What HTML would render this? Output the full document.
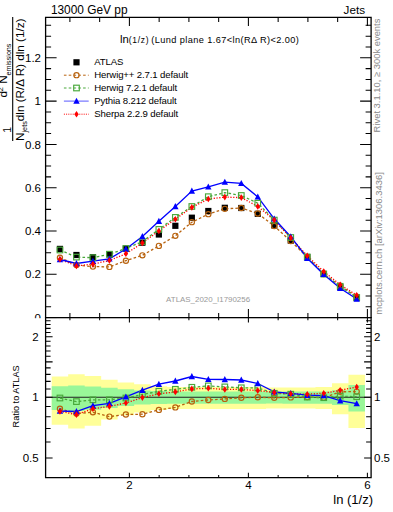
<!DOCTYPE html><html><head><meta charset="utf-8"><style>html,body{margin:0;padding:0;background:#fff;}svg{display:block;font-family:"Liberation Sans",sans-serif;}</style></head><body><svg width="393" height="512" viewBox="0 0 393 512"><rect width="393" height="512" fill="#fff"/><g fill="none" stroke-width="1.3"><path d="M59.95,257.70 L76.44,265.00 L92.92,266.60 L109.41,266.90 L125.89,260.70 L142.38,255.30 L158.87,245.90 L175.35,235.80 L191.84,222.20 L208.32,214.20 L224.81,208.80 L241.30,208.00 L257.78,213.50 L274.27,226.00 L290.75,241.10 L307.24,257.00 L323.73,274.00 L340.21,285.80 L356.70,296.80" stroke="#b8620e" stroke-dasharray="2.6,2.2"/><path d="M59.95,250.00 L76.44,257.10 L92.92,257.70 L109.41,254.20 L125.89,248.50 L142.38,241.60 L158.87,229.40 L175.35,217.40 L191.84,206.50 L208.32,196.70 L224.81,192.60 L241.30,195.50 L257.78,203.20 L274.27,220.10 L290.75,237.50 L307.24,257.00 L323.73,274.00 L340.21,286.30 L356.70,297.50" stroke="#48a83a" stroke-dasharray="2.6,2.2"/><path d="M59.95,259.30 L76.44,266.00 L92.92,264.10 L109.41,260.50 L125.89,253.80 L142.38,242.90 L158.87,231.00 L175.35,219.20 L191.84,207.40 L208.32,199.00 L224.81,197.10 L241.30,197.60 L257.78,206.40 L274.27,220.10 L290.75,237.90 L307.24,255.80 L323.73,271.50 L340.21,284.70 L356.70,295.30" stroke="#ff0000" stroke-dasharray="1.2,1.6"/><path d="M59.95,259.50 L76.44,263.50 L92.92,261.20 L109.41,258.80 L125.89,249.00 L142.38,236.50 L158.87,221.20 L175.35,206.50 L191.84,191.00 L208.32,186.90 L224.81,182.10 L241.30,183.40 L257.78,196.90 L274.27,218.80 L290.75,236.60 L307.24,258.20 L323.73,274.40 L340.21,288.30 L356.70,299.00" stroke="#0000ff"/></g><rect x="56.85" y="245.80" width="6.2" height="6.2" fill="#000"/><rect x="73.34" y="251.90" width="6.2" height="6.2" fill="#000"/><rect x="89.82" y="254.10" width="6.2" height="6.2" fill="#000"/><rect x="106.31" y="251.30" width="6.2" height="6.2" fill="#000"/><rect x="122.79" y="245.60" width="6.2" height="6.2" fill="#000"/><rect x="139.28" y="239.60" width="6.2" height="6.2" fill="#000"/><rect x="155.77" y="231.40" width="6.2" height="6.2" fill="#000"/><rect x="172.25" y="222.70" width="6.2" height="6.2" fill="#000"/><rect x="188.74" y="214.60" width="6.2" height="6.2" fill="#000"/><rect x="205.22" y="207.90" width="6.2" height="6.2" fill="#000"/><rect x="221.71" y="204.70" width="6.2" height="6.2" fill="#000"/><rect x="238.20" y="204.90" width="6.2" height="6.2" fill="#000"/><rect x="254.68" y="210.70" width="6.2" height="6.2" fill="#000"/><rect x="271.17" y="222.30" width="6.2" height="6.2" fill="#000"/><rect x="287.65" y="237.50" width="6.2" height="6.2" fill="#000"/><rect x="304.14" y="253.90" width="6.2" height="6.2" fill="#000"/><rect x="320.63" y="270.90" width="6.2" height="6.2" fill="#000"/><rect x="337.11" y="284.10" width="6.2" height="6.2" fill="#000"/><rect x="353.60" y="294.90" width="6.2" height="6.2" fill="#000"/><circle cx="59.95" cy="257.70" r="2.6" fill="none" stroke="#b8620e" stroke-width="1.15"/><circle cx="76.44" cy="265.00" r="2.6" fill="none" stroke="#b8620e" stroke-width="1.15"/><circle cx="92.92" cy="266.60" r="2.6" fill="none" stroke="#b8620e" stroke-width="1.15"/><circle cx="109.41" cy="266.90" r="2.6" fill="none" stroke="#b8620e" stroke-width="1.15"/><circle cx="125.89" cy="260.70" r="2.6" fill="none" stroke="#b8620e" stroke-width="1.15"/><circle cx="142.38" cy="255.30" r="2.6" fill="none" stroke="#b8620e" stroke-width="1.15"/><circle cx="158.87" cy="245.90" r="2.6" fill="none" stroke="#b8620e" stroke-width="1.15"/><circle cx="175.35" cy="235.80" r="2.6" fill="none" stroke="#b8620e" stroke-width="1.15"/><circle cx="191.84" cy="222.20" r="2.6" fill="none" stroke="#b8620e" stroke-width="1.15"/><circle cx="208.32" cy="214.20" r="2.6" fill="none" stroke="#b8620e" stroke-width="1.15"/><circle cx="224.81" cy="208.80" r="2.6" fill="none" stroke="#b8620e" stroke-width="1.15"/><circle cx="241.30" cy="208.00" r="2.6" fill="none" stroke="#b8620e" stroke-width="1.15"/><circle cx="257.78" cy="213.50" r="2.6" fill="none" stroke="#b8620e" stroke-width="1.15"/><circle cx="274.27" cy="226.00" r="2.6" fill="none" stroke="#b8620e" stroke-width="1.15"/><circle cx="290.75" cy="241.10" r="2.6" fill="none" stroke="#b8620e" stroke-width="1.15"/><circle cx="307.24" cy="257.00" r="2.6" fill="none" stroke="#b8620e" stroke-width="1.15"/><circle cx="323.73" cy="274.00" r="2.6" fill="none" stroke="#b8620e" stroke-width="1.15"/><circle cx="340.21" cy="285.80" r="2.6" fill="none" stroke="#b8620e" stroke-width="1.15"/><circle cx="356.70" cy="296.80" r="2.6" fill="none" stroke="#b8620e" stroke-width="1.15"/><rect x="57.15" y="247.20" width="5.6" height="5.6" fill="none" stroke="#48a83a" stroke-width="1.15"/><rect x="73.64" y="254.30" width="5.6" height="5.6" fill="none" stroke="#48a83a" stroke-width="1.15"/><rect x="90.12" y="254.90" width="5.6" height="5.6" fill="none" stroke="#48a83a" stroke-width="1.15"/><rect x="106.61" y="251.40" width="5.6" height="5.6" fill="none" stroke="#48a83a" stroke-width="1.15"/><rect x="123.09" y="245.70" width="5.6" height="5.6" fill="none" stroke="#48a83a" stroke-width="1.15"/><rect x="139.58" y="238.80" width="5.6" height="5.6" fill="none" stroke="#48a83a" stroke-width="1.15"/><rect x="156.07" y="226.60" width="5.6" height="5.6" fill="none" stroke="#48a83a" stroke-width="1.15"/><rect x="172.55" y="214.60" width="5.6" height="5.6" fill="none" stroke="#48a83a" stroke-width="1.15"/><rect x="189.04" y="203.70" width="5.6" height="5.6" fill="none" stroke="#48a83a" stroke-width="1.15"/><rect x="205.52" y="193.90" width="5.6" height="5.6" fill="none" stroke="#48a83a" stroke-width="1.15"/><rect x="222.01" y="189.80" width="5.6" height="5.6" fill="none" stroke="#48a83a" stroke-width="1.15"/><rect x="238.50" y="192.70" width="5.6" height="5.6" fill="none" stroke="#48a83a" stroke-width="1.15"/><rect x="254.98" y="200.40" width="5.6" height="5.6" fill="none" stroke="#48a83a" stroke-width="1.15"/><rect x="271.47" y="217.30" width="5.6" height="5.6" fill="none" stroke="#48a83a" stroke-width="1.15"/><rect x="287.95" y="234.70" width="5.6" height="5.6" fill="none" stroke="#48a83a" stroke-width="1.15"/><rect x="304.44" y="254.20" width="5.6" height="5.6" fill="none" stroke="#48a83a" stroke-width="1.15"/><rect x="320.93" y="271.20" width="5.6" height="5.6" fill="none" stroke="#48a83a" stroke-width="1.15"/><rect x="337.41" y="283.50" width="5.6" height="5.6" fill="none" stroke="#48a83a" stroke-width="1.15"/><rect x="353.90" y="294.70" width="5.6" height="5.6" fill="none" stroke="#48a83a" stroke-width="1.15"/><path d="M59.95,256.10 L63.15,262.20 L56.75,262.20 Z" fill="#0000ff"/><path d="M76.44,260.10 L79.64,266.20 L73.24,266.20 Z" fill="#0000ff"/><path d="M92.92,257.80 L96.12,263.90 L89.72,263.90 Z" fill="#0000ff"/><path d="M109.41,255.40 L112.61,261.50 L106.21,261.50 Z" fill="#0000ff"/><path d="M125.89,245.60 L129.09,251.70 L122.69,251.70 Z" fill="#0000ff"/><path d="M142.38,233.10 L145.58,239.20 L139.18,239.20 Z" fill="#0000ff"/><path d="M158.87,217.80 L162.07,223.90 L155.67,223.90 Z" fill="#0000ff"/><path d="M175.35,203.10 L178.55,209.20 L172.15,209.20 Z" fill="#0000ff"/><path d="M191.84,187.60 L195.04,193.70 L188.64,193.70 Z" fill="#0000ff"/><path d="M208.32,183.50 L211.52,189.60 L205.12,189.60 Z" fill="#0000ff"/><path d="M224.81,178.70 L228.01,184.80 L221.61,184.80 Z" fill="#0000ff"/><path d="M241.30,180.00 L244.50,186.10 L238.10,186.10 Z" fill="#0000ff"/><path d="M257.78,193.50 L260.98,199.60 L254.58,199.60 Z" fill="#0000ff"/><path d="M274.27,215.40 L277.47,221.50 L271.07,221.50 Z" fill="#0000ff"/><path d="M290.75,233.20 L293.95,239.30 L287.55,239.30 Z" fill="#0000ff"/><path d="M307.24,254.80 L310.44,260.90 L304.04,260.90 Z" fill="#0000ff"/><path d="M323.73,271.00 L326.93,277.10 L320.53,277.10 Z" fill="#0000ff"/><path d="M340.21,284.90 L343.41,291.00 L337.01,291.00 Z" fill="#0000ff"/><path d="M356.70,295.60 L359.90,301.70 L353.50,301.70 Z" fill="#0000ff"/><path d="M59.95,256.00 L62.15,259.30 L59.95,262.60 L57.75,259.30 Z" fill="#ff0000"/><path d="M76.44,262.70 L78.64,266.00 L76.44,269.30 L74.24,266.00 Z" fill="#ff0000"/><path d="M92.92,260.80 L95.12,264.10 L92.92,267.40 L90.72,264.10 Z" fill="#ff0000"/><path d="M109.41,257.20 L111.61,260.50 L109.41,263.80 L107.21,260.50 Z" fill="#ff0000"/><path d="M125.89,250.50 L128.09,253.80 L125.89,257.10 L123.69,253.80 Z" fill="#ff0000"/><path d="M142.38,239.60 L144.58,242.90 L142.38,246.20 L140.18,242.90 Z" fill="#ff0000"/><path d="M158.87,227.70 L161.07,231.00 L158.87,234.30 L156.67,231.00 Z" fill="#ff0000"/><path d="M175.35,215.90 L177.55,219.20 L175.35,222.50 L173.15,219.20 Z" fill="#ff0000"/><path d="M191.84,204.10 L194.04,207.40 L191.84,210.70 L189.64,207.40 Z" fill="#ff0000"/><path d="M208.32,195.70 L210.52,199.00 L208.32,202.30 L206.12,199.00 Z" fill="#ff0000"/><path d="M224.81,193.80 L227.01,197.10 L224.81,200.40 L222.61,197.10 Z" fill="#ff0000"/><path d="M241.30,194.30 L243.50,197.60 L241.30,200.90 L239.10,197.60 Z" fill="#ff0000"/><path d="M257.78,203.10 L259.98,206.40 L257.78,209.70 L255.58,206.40 Z" fill="#ff0000"/><path d="M274.27,216.80 L276.47,220.10 L274.27,223.40 L272.07,220.10 Z" fill="#ff0000"/><path d="M290.75,234.60 L292.95,237.90 L290.75,241.20 L288.55,237.90 Z" fill="#ff0000"/><path d="M307.24,252.50 L309.44,255.80 L307.24,259.10 L305.04,255.80 Z" fill="#ff0000"/><path d="M323.73,268.20 L325.93,271.50 L323.73,274.80 L321.53,271.50 Z" fill="#ff0000"/><path d="M340.21,281.40 L342.41,284.70 L340.21,288.00 L338.01,284.70 Z" fill="#ff0000"/><path d="M356.70,292.00 L358.90,295.30 L356.70,298.60 L354.50,295.30 Z" fill="#ff0000"/><text x="166.1" y="301.9" font-size="7.9" fill="#999" textLength="84" lengthAdjust="spacingAndGlyphs">ATLAS_2020_I1790256</text><path d="M45.60,17.40 H371.10 V317.60 H45.60 Z" fill="none" stroke="#000" stroke-width="1.3"/><path d="M45.60,317.60 h11.00 M371.10,317.60 h-11.00 M45.60,306.78 h5.50 M371.10,306.78 h-5.50 M45.60,295.95 h5.50 M371.10,295.95 h-5.50 M45.60,285.12 h5.50 M371.10,285.12 h-5.50 M45.60,274.30 h11.00 M371.10,274.30 h-11.00 M45.60,263.48 h5.50 M371.10,263.48 h-5.50 M45.60,252.65 h5.50 M371.10,252.65 h-5.50 M45.60,241.83 h5.50 M371.10,241.83 h-5.50 M45.60,231.00 h11.00 M371.10,231.00 h-11.00 M45.60,220.18 h5.50 M371.10,220.18 h-5.50 M45.60,209.35 h5.50 M371.10,209.35 h-5.50 M45.60,198.53 h5.50 M371.10,198.53 h-5.50 M45.60,187.70 h11.00 M371.10,187.70 h-11.00 M45.60,176.88 h5.50 M371.10,176.88 h-5.50 M45.60,166.05 h5.50 M371.10,166.05 h-5.50 M45.60,155.23 h5.50 M371.10,155.23 h-5.50 M45.60,144.40 h11.00 M371.10,144.40 h-11.00 M45.60,133.58 h5.50 M371.10,133.58 h-5.50 M45.60,122.75 h5.50 M371.10,122.75 h-5.50 M45.60,111.93 h5.50 M371.10,111.93 h-5.50 M45.60,101.10 h11.00 M371.10,101.10 h-11.00 M45.60,90.28 h5.50 M371.10,90.28 h-5.50 M45.60,79.45 h5.50 M371.10,79.45 h-5.50 M45.60,68.62 h5.50 M371.10,68.62 h-5.50 M45.60,57.80 h11.00 M371.10,57.80 h-11.00 M45.60,46.98 h5.50 M371.10,46.98 h-5.50 M45.60,36.15 h5.50 M371.10,36.15 h-5.50 M45.60,25.32 h5.50 M371.10,25.32 h-5.50 M69.90,317.60 v-4.50 M69.90,17.40 v4.50 M99.65,317.60 v-4.50 M99.65,17.40 v4.50 M129.40,317.60 v-8.60 M129.40,17.40 v8.60 M159.15,317.60 v-4.50 M159.15,17.40 v4.50 M188.90,317.60 v-4.50 M188.90,17.40 v4.50 M218.65,317.60 v-4.50 M218.65,17.40 v4.50 M248.40,317.60 v-8.60 M248.40,17.40 v8.60 M278.15,317.60 v-4.50 M278.15,17.40 v4.50 M307.90,317.60 v-4.50 M307.90,17.40 v4.50 M337.65,317.60 v-4.50 M337.65,17.40 v4.50 M367.40,317.60 v-8.60 M367.40,17.40 v8.60" fill="none" stroke="#000" stroke-width="1.05"/><text x="41" y="278.40" font-size="11.5" text-anchor="end">0.2</text><text x="41" y="235.10" font-size="11.5" text-anchor="end">0.4</text><text x="41" y="191.80" font-size="11.5" text-anchor="end">0.6</text><text x="41" y="148.50" font-size="11.5" text-anchor="end">0.8</text><text x="41" y="105.20" font-size="11.5" text-anchor="end">1</text><text x="41" y="61.90" font-size="11.5" text-anchor="end">1.2</text><text x="41" y="321.70" font-size="11.5" text-anchor="end">0</text><rect x="0" y="318.20" width="393" height="170.10" fill="#fff"/><path d="M51.71,376.40 L68.19,376.40 L68.19,374.36 L84.68,374.36 L84.68,375.92 L101.16,375.92 L101.17,379.63 L117.65,379.63 L117.65,382.46 L134.14,382.46 L134.14,384.32 L150.62,384.32 L150.62,386.23 L167.11,386.23 L167.11,387.00 L183.59,387.00 L183.60,387.00 L200.08,387.00 L200.08,387.00 L216.57,387.00 L216.57,387.00 L233.05,387.00 L233.05,387.00 L249.54,387.00 L249.54,387.00 L266.02,387.00 L266.03,387.39 L282.51,387.39 L282.51,387.39 L299.00,387.39 L299.00,387.39 L315.48,387.39 L315.48,387.00 L331.97,387.00 L331.97,383.13 L348.45,383.13 L348.45,374.63 L364.94,374.63 L364.94,427.98 L348.45,427.98 L348.45,414.22 L331.97,414.22 L331.97,408.97 L315.48,408.97 L315.48,408.48 L299.00,408.48 L299.00,408.48 L282.51,408.48 L282.51,408.48 L266.03,408.48 L266.02,408.97 L249.54,408.97 L249.54,408.97 L233.05,408.97 L233.05,408.97 L216.57,408.97 L216.57,408.97 L200.08,408.97 L200.08,408.97 L183.60,408.97 L183.59,408.97 L167.11,408.97 L167.11,409.98 L150.62,409.98 L150.62,412.54 L134.14,412.54 L134.14,415.18 L117.65,415.18 L117.65,419.47 L101.17,419.47 L101.16,425.66 L84.68,425.66 L84.68,428.48 L68.19,428.48 L68.19,424.81 L51.71,424.81 Z" fill="#ffff99"/><path d="M51.71,386.23 L68.19,386.23 L68.19,385.46 L84.68,385.46 L84.68,386.38 L101.16,386.38 L101.17,387.78 L117.65,387.78 L117.65,389.37 L134.14,389.37 L134.14,390.57 L150.62,390.57 L150.62,390.98 L167.11,390.98 L167.11,391.38 L183.59,391.38 L183.60,391.38 L200.08,391.38 L200.08,391.38 L216.57,391.38 L216.57,391.38 L233.05,391.38 L233.05,391.38 L249.54,391.38 L249.54,391.38 L266.02,391.38 L266.03,391.55 L282.51,391.55 L282.51,391.38 L299.00,391.38 L299.00,391.38 L315.48,391.38 L315.48,391.38 L331.97,391.38 L331.97,390.33 L348.45,390.33 L348.45,385.08 L364.94,385.08 L364.94,411.51 L348.45,411.51 L348.45,404.88 L331.97,404.88 L331.97,403.64 L315.48,403.64 L315.48,403.64 L299.00,403.64 L299.00,403.64 L282.51,403.64 L282.51,403.46 L266.03,403.46 L266.02,403.64 L249.54,403.64 L249.54,403.64 L233.05,403.64 L233.05,403.64 L216.57,403.64 L216.57,403.64 L200.08,403.64 L200.08,403.64 L183.60,403.64 L183.59,403.64 L167.11,403.64 L167.11,404.12 L150.62,404.12 L150.62,404.59 L134.14,404.59 L134.14,406.03 L117.65,406.03 L117.65,407.98 L101.17,407.98 L101.16,409.78 L84.68,409.78 L84.68,411.00 L68.19,411.00 L68.19,409.98 L51.71,409.98 Z" fill="#99f799"/><path d="M45.60,397.30 H371.10" stroke="#222" stroke-width="1.1"/><g fill="none" stroke-width="1.3"><path d="M59.95,408.70 L76.44,413.50 L92.92,412.30 L109.41,416.60 L125.89,414.50 L142.38,414.20 L158.87,409.90 L175.35,407.40 L191.84,401.50 L208.32,400.00 L224.81,398.90 L241.30,397.80 L257.78,397.20 L274.27,397.80 L290.75,397.40 L307.24,397.10 L323.73,397.70 L340.21,391.80 L356.70,391.60" stroke="#b8620e" stroke-dasharray="2.6,2.2"/><path d="M59.95,398.00 L76.44,401.60 L92.92,399.80 L109.41,399.80 L125.89,398.00 L142.38,394.50 L158.87,391.30 L175.35,389.30 L191.84,387.30 L208.32,385.90 L224.81,386.90 L241.30,387.80 L257.78,388.00 L274.27,393.30 L290.75,394.20 L307.24,397.10 L323.73,397.70 L340.21,396.10 L356.70,396.70" stroke="#48a83a" stroke-dasharray="2.6,2.2"/><path d="M59.95,411.40 L76.44,414.60 L92.92,408.70 L109.41,406.40 L125.89,403.00 L142.38,397.60 L158.87,393.80 L175.35,391.90 L191.84,388.90 L208.32,388.30 L224.81,389.40 L241.30,389.40 L257.78,390.60 L274.27,392.40 L290.75,393.80 L307.24,394.20 L323.73,393.20 L340.21,390.30 L356.70,387.00" stroke="#ff0000" stroke-dasharray="1.2,1.6"/><path d="M59.95,411.00 L76.44,411.50 L92.92,405.70 L109.41,403.40 L125.89,396.80 L142.38,390.20 L158.87,384.20 L175.35,381.00 L191.84,376.50 L208.32,379.40 L224.81,379.50 L241.30,380.00 L257.78,383.50 L274.27,391.90 L290.75,393.30 L307.24,395.20 L323.73,395.60 L340.21,400.70 L356.70,403.60" stroke="#0000ff"/></g><circle cx="59.95" cy="408.70" r="2.6" fill="none" stroke="#b8620e" stroke-width="1.15"/><circle cx="76.44" cy="413.50" r="2.6" fill="none" stroke="#b8620e" stroke-width="1.15"/><circle cx="92.92" cy="412.30" r="2.6" fill="none" stroke="#b8620e" stroke-width="1.15"/><circle cx="109.41" cy="416.60" r="2.6" fill="none" stroke="#b8620e" stroke-width="1.15"/><circle cx="125.89" cy="414.50" r="2.6" fill="none" stroke="#b8620e" stroke-width="1.15"/><circle cx="142.38" cy="414.20" r="2.6" fill="none" stroke="#b8620e" stroke-width="1.15"/><circle cx="158.87" cy="409.90" r="2.6" fill="none" stroke="#b8620e" stroke-width="1.15"/><circle cx="175.35" cy="407.40" r="2.6" fill="none" stroke="#b8620e" stroke-width="1.15"/><circle cx="191.84" cy="401.50" r="2.6" fill="none" stroke="#b8620e" stroke-width="1.15"/><circle cx="208.32" cy="400.00" r="2.6" fill="none" stroke="#b8620e" stroke-width="1.15"/><circle cx="224.81" cy="398.90" r="2.6" fill="none" stroke="#b8620e" stroke-width="1.15"/><circle cx="241.30" cy="397.80" r="2.6" fill="none" stroke="#b8620e" stroke-width="1.15"/><circle cx="257.78" cy="397.20" r="2.6" fill="none" stroke="#b8620e" stroke-width="1.15"/><circle cx="274.27" cy="397.80" r="2.6" fill="none" stroke="#b8620e" stroke-width="1.15"/><circle cx="290.75" cy="397.40" r="2.6" fill="none" stroke="#b8620e" stroke-width="1.15"/><circle cx="307.24" cy="397.10" r="2.6" fill="none" stroke="#b8620e" stroke-width="1.15"/><circle cx="323.73" cy="397.70" r="2.6" fill="none" stroke="#b8620e" stroke-width="1.15"/><circle cx="340.21" cy="391.80" r="2.6" fill="none" stroke="#b8620e" stroke-width="1.15"/><circle cx="356.70" cy="391.60" r="2.6" fill="none" stroke="#b8620e" stroke-width="1.15"/><rect x="57.15" y="395.20" width="5.6" height="5.6" fill="none" stroke="#48a83a" stroke-width="1.15"/><rect x="73.64" y="398.80" width="5.6" height="5.6" fill="none" stroke="#48a83a" stroke-width="1.15"/><rect x="90.12" y="397.00" width="5.6" height="5.6" fill="none" stroke="#48a83a" stroke-width="1.15"/><rect x="106.61" y="397.00" width="5.6" height="5.6" fill="none" stroke="#48a83a" stroke-width="1.15"/><rect x="123.09" y="395.20" width="5.6" height="5.6" fill="none" stroke="#48a83a" stroke-width="1.15"/><rect x="139.58" y="391.70" width="5.6" height="5.6" fill="none" stroke="#48a83a" stroke-width="1.15"/><rect x="156.07" y="388.50" width="5.6" height="5.6" fill="none" stroke="#48a83a" stroke-width="1.15"/><rect x="172.55" y="386.50" width="5.6" height="5.6" fill="none" stroke="#48a83a" stroke-width="1.15"/><rect x="189.04" y="384.50" width="5.6" height="5.6" fill="none" stroke="#48a83a" stroke-width="1.15"/><rect x="205.52" y="383.10" width="5.6" height="5.6" fill="none" stroke="#48a83a" stroke-width="1.15"/><rect x="222.01" y="384.10" width="5.6" height="5.6" fill="none" stroke="#48a83a" stroke-width="1.15"/><rect x="238.50" y="385.00" width="5.6" height="5.6" fill="none" stroke="#48a83a" stroke-width="1.15"/><rect x="254.98" y="385.20" width="5.6" height="5.6" fill="none" stroke="#48a83a" stroke-width="1.15"/><rect x="271.47" y="390.50" width="5.6" height="5.6" fill="none" stroke="#48a83a" stroke-width="1.15"/><rect x="287.95" y="391.40" width="5.6" height="5.6" fill="none" stroke="#48a83a" stroke-width="1.15"/><rect x="304.44" y="394.30" width="5.6" height="5.6" fill="none" stroke="#48a83a" stroke-width="1.15"/><rect x="320.93" y="394.90" width="5.6" height="5.6" fill="none" stroke="#48a83a" stroke-width="1.15"/><rect x="337.41" y="393.30" width="5.6" height="5.6" fill="none" stroke="#48a83a" stroke-width="1.15"/><rect x="353.90" y="393.90" width="5.6" height="5.6" fill="none" stroke="#48a83a" stroke-width="1.15"/><path d="M59.95,407.60 L63.15,413.70 L56.75,413.70 Z" fill="#0000ff"/><path d="M76.44,408.10 L79.64,414.20 L73.24,414.20 Z" fill="#0000ff"/><path d="M92.92,402.30 L96.12,408.40 L89.72,408.40 Z" fill="#0000ff"/><path d="M109.41,400.00 L112.61,406.10 L106.21,406.10 Z" fill="#0000ff"/><path d="M125.89,393.40 L129.09,399.50 L122.69,399.50 Z" fill="#0000ff"/><path d="M142.38,386.80 L145.58,392.90 L139.18,392.90 Z" fill="#0000ff"/><path d="M158.87,380.80 L162.07,386.90 L155.67,386.90 Z" fill="#0000ff"/><path d="M175.35,377.60 L178.55,383.70 L172.15,383.70 Z" fill="#0000ff"/><path d="M191.84,373.10 L195.04,379.20 L188.64,379.20 Z" fill="#0000ff"/><path d="M208.32,376.00 L211.52,382.10 L205.12,382.10 Z" fill="#0000ff"/><path d="M224.81,376.10 L228.01,382.20 L221.61,382.20 Z" fill="#0000ff"/><path d="M241.30,376.60 L244.50,382.70 L238.10,382.70 Z" fill="#0000ff"/><path d="M257.78,380.10 L260.98,386.20 L254.58,386.20 Z" fill="#0000ff"/><path d="M274.27,388.50 L277.47,394.60 L271.07,394.60 Z" fill="#0000ff"/><path d="M290.75,389.90 L293.95,396.00 L287.55,396.00 Z" fill="#0000ff"/><path d="M307.24,391.80 L310.44,397.90 L304.04,397.90 Z" fill="#0000ff"/><path d="M323.73,392.20 L326.93,398.30 L320.53,398.30 Z" fill="#0000ff"/><path d="M340.21,397.30 L343.41,403.40 L337.01,403.40 Z" fill="#0000ff"/><path d="M356.70,400.20 L359.90,406.30 L353.50,406.30 Z" fill="#0000ff"/><path d="M59.95,408.10 L62.15,411.40 L59.95,414.70 L57.75,411.40 Z" fill="#ff0000"/><path d="M76.44,411.30 L78.64,414.60 L76.44,417.90 L74.24,414.60 Z" fill="#ff0000"/><path d="M92.92,405.40 L95.12,408.70 L92.92,412.00 L90.72,408.70 Z" fill="#ff0000"/><path d="M109.41,403.10 L111.61,406.40 L109.41,409.70 L107.21,406.40 Z" fill="#ff0000"/><path d="M125.89,399.70 L128.09,403.00 L125.89,406.30 L123.69,403.00 Z" fill="#ff0000"/><path d="M142.38,394.30 L144.58,397.60 L142.38,400.90 L140.18,397.60 Z" fill="#ff0000"/><path d="M158.87,390.50 L161.07,393.80 L158.87,397.10 L156.67,393.80 Z" fill="#ff0000"/><path d="M175.35,388.60 L177.55,391.90 L175.35,395.20 L173.15,391.90 Z" fill="#ff0000"/><path d="M191.84,385.60 L194.04,388.90 L191.84,392.20 L189.64,388.90 Z" fill="#ff0000"/><path d="M208.32,385.00 L210.52,388.30 L208.32,391.60 L206.12,388.30 Z" fill="#ff0000"/><path d="M224.81,386.10 L227.01,389.40 L224.81,392.70 L222.61,389.40 Z" fill="#ff0000"/><path d="M241.30,386.10 L243.50,389.40 L241.30,392.70 L239.10,389.40 Z" fill="#ff0000"/><path d="M257.78,387.30 L259.98,390.60 L257.78,393.90 L255.58,390.60 Z" fill="#ff0000"/><path d="M274.27,389.10 L276.47,392.40 L274.27,395.70 L272.07,392.40 Z" fill="#ff0000"/><path d="M290.75,390.50 L292.95,393.80 L290.75,397.10 L288.55,393.80 Z" fill="#ff0000"/><path d="M307.24,390.90 L309.44,394.20 L307.24,397.50 L305.04,394.20 Z" fill="#ff0000"/><path d="M323.73,389.90 L325.93,393.20 L323.73,396.50 L321.53,393.20 Z" fill="#ff0000"/><path d="M340.21,387.00 L342.41,390.30 L340.21,393.60 L338.01,390.30 Z" fill="#ff0000"/><path d="M356.70,383.70 L358.90,387.00 L356.70,390.30 L354.50,387.00 Z" fill="#ff0000"/><path d="M45.60,317.60 H371.10 V477.70 H45.60 Z" fill="none" stroke="#000" stroke-width="1.3"/><path d="M45.60,388.97 h5.00 M371.10,388.97 h-5.00 M45.60,381.36 h5.00 M371.10,381.36 h-5.00 M45.60,374.36 h5.00 M371.10,374.36 h-5.00 M45.60,367.88 h5.00 M371.10,367.88 h-5.00 M45.60,361.85 h7.00 M371.10,361.85 h-7.00 M45.60,356.21 h5.00 M371.10,356.21 h-5.00 M45.60,350.91 h5.00 M371.10,350.91 h-5.00 M45.60,345.91 h5.00 M371.10,345.91 h-5.00 M45.60,341.18 h5.00 M371.10,341.18 h-5.00 M45.60,336.70 h7.00 M371.10,336.70 h-7.00 M45.60,332.43 h5.00 M371.10,332.43 h-5.00 M45.60,328.37 h5.00 M371.10,328.37 h-5.00 M45.60,324.48 h5.00 M371.10,324.48 h-5.00 M45.60,320.76 h5.00 M371.10,320.76 h-5.00 M45.60,406.51 h5.00 M371.10,406.51 h-5.00 M45.60,416.81 h5.00 M371.10,416.81 h-5.00 M45.60,428.48 h5.00 M371.10,428.48 h-5.00 M45.60,441.96 h5.00 M371.10,441.96 h-5.00 M45.60,457.90 h7.00 M371.10,457.90 h-7.00 M45.60,397.30 h7.00 M371.10,397.30 h-7.00 M69.90,477.70 v-2.70 M69.90,317.60 v2.70 M99.65,477.70 v-2.70 M99.65,317.60 v2.70 M129.40,477.70 v-5.00 M129.40,317.60 v5.00 M159.15,477.70 v-2.70 M159.15,317.60 v2.70 M188.90,477.70 v-2.70 M188.90,317.60 v2.70 M218.65,477.70 v-2.70 M218.65,317.60 v2.70 M248.40,477.70 v-5.00 M248.40,317.60 v5.00 M278.15,477.70 v-2.70 M278.15,317.60 v2.70 M307.90,477.70 v-2.70 M307.90,317.60 v2.70 M337.65,477.70 v-2.70 M337.65,317.60 v2.70 M367.40,477.70 v-5.00 M367.40,317.60 v5.00" fill="none" stroke="#000" stroke-width="1.05"/><text x="38.7" y="340.80" font-size="11.5" text-anchor="end">2</text><text x="374" y="340.80" font-size="11.5">2</text><text x="38.7" y="401.40" font-size="11.5" text-anchor="end">1</text><text x="374" y="401.40" font-size="11.5">1</text><text x="38.7" y="462.00" font-size="11.5" text-anchor="end">0.5</text><text x="374" y="462.00" font-size="11.5">0.5</text><text x="129.40" y="489" font-size="11.5" text-anchor="middle">2</text><text x="248.40" y="489" font-size="11.5" text-anchor="middle">4</text><text x="367.40" y="489" font-size="11.5" text-anchor="middle">6</text><text x="373" y="504" font-size="13" text-anchor="end">ln (1/z)</text><text transform="translate(18.6,427.4) rotate(-90)" font-size="9.2">Ratio to ATLAS</text><text x="50.9" y="14" font-size="11.9">13000 GeV pp</text><text x="365" y="14" font-size="11.7" text-anchor="end">Jets</text><text x="120" y="42.5" font-size="11.3">ln</text><text x="128.7" y="42.6" font-size="8.5" textLength="19.8" lengthAdjust="spacing">(1/z)</text><text x="151.3" y="42.8" font-size="9.2" textLength="147.6" lengthAdjust="spacing">(Lund plane 1.67&lt;ln(R&#916; R)&lt;2.00)</text><text x="94.3" y="65.20" font-size="9.6" letter-spacing="-0.13">ATLAS</text><text x="94.3" y="78.10" font-size="9.6" letter-spacing="-0.13">Herwig++ 2.7.1 default</text><text x="94.3" y="90.90" font-size="9.6" letter-spacing="-0.13">Herwig 7.2.1 default</text><text x="94.3" y="104.00" font-size="9.6" letter-spacing="-0.13">Pythia 8.212 default</text><text x="94.3" y="117.10" font-size="9.6" letter-spacing="-0.13">Sherpa 2.2.9 default</text><g fill="none" stroke-width="1.0"><path d="M63.9,75.20 H88.7" stroke="#b8620e" stroke-dasharray="2.6,2.2"/><path d="M63.9,88.00 H88.7" stroke="#48a83a" stroke-dasharray="2.6,2.2"/><path d="M63.9,101.10 H88.7" stroke="#5a5aff"/><path d="M63.9,114.20 H88.7" stroke="#ff0000" stroke-dasharray="1,1.2"/></g><rect x="73.40" y="59.20" width="6.2" height="6.2" fill="#000"/><circle cx="76.50" cy="75.20" r="2.6" fill="none" stroke="#b8620e" stroke-width="1.15"/><rect x="73.70" y="85.20" width="5.6" height="5.6" fill="none" stroke="#48a83a" stroke-width="1.15"/><path d="M76.50,97.70 L79.70,103.80 L73.30,103.80 Z" fill="#0000ff"/><path d="M76.50,110.90 L78.70,114.20 L76.50,117.50 L74.30,114.20 Z" fill="#ff0000"/><text transform="translate(380.3,132.4) rotate(-90)" font-size="9.5" fill="#888" textLength="113.8" lengthAdjust="spacingAndGlyphs">Rivet 3.1.10, &#8805; 300k events</text><text transform="translate(381.5,314.7) rotate(-90)" font-size="9.4" fill="#888" textLength="142.5" lengthAdjust="spacingAndGlyphs">mcplots.cern.ch [arXiv:1306.3436]</text><path d="M12.7,17 V141" stroke="#000" stroke-width="1.1"/><g transform="translate(0,0)"><text transform="translate(11.1,129.9) rotate(-90)" font-size="10.5" text-anchor="middle">1</text><text transform="translate(24.2,141) rotate(-90)" font-size="11.7">N<tspan font-size="7.3" dy="2.8">jets</tspan><tspan dy="-2.8">dln (R/&#916; R) dln (1/z)</tspan></text><text transform="translate(7,97.6) rotate(-90)" font-size="11.6">d<tspan font-size="7.3" dy="-4">2</tspan><tspan dy="4"> N</tspan><tspan font-size="7.2" dy="3.9">emissions</tspan></text></g></svg></body></html>
